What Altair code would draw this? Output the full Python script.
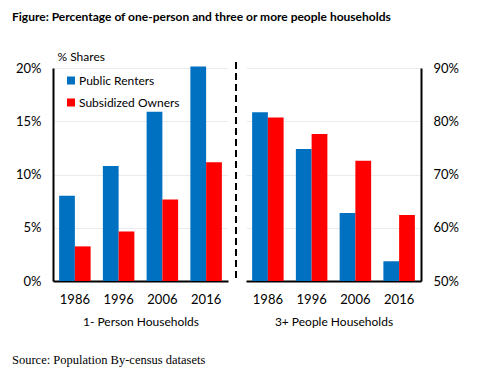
import altair as alt
import pandas as pd

years = ["1986", "1996", "2006", "2016"]
series = ["Public Renters", "Subsidized Owners"]
one_public = [8.0, 10.8, 15.9, 20.15]
one_subsid = [3.25, 4.65, 7.65, 11.15]
three_public = [81.7, 74.8, 62.75, 53.7]
three_subsid = [80.7, 77.6, 72.6, 62.4]
left_ticks = [0, 5, 10, 15, 20]
right_ticks = [50, 60, 70, 80, 90]
colors = ["#0070C0", "#FF0000"]
title_text = "Figure: Percentage of one-person and three or more people households"
source_text = "Source: Population By-census datasets"

FONT = "Lato"


def frame(pub, sub):
    rows = []
    for y, v in zip(years, pub):
        rows.append({"year": y, "series": series[0], "value": v})
    for y, v in zip(years, sub):
        rows.append({"year": y, "series": series[1], "value": v})
    return pd.DataFrame(rows)


df1 = frame(one_public, one_subsid)
df2 = frame(three_public, three_subsid)

xscale = alt.Scale(paddingInner=0.28, paddingOuter=0.14)
color_scale = alt.Scale(domain=series, range=colors)


def xaxis(title):
    return alt.Axis(title=title, labelAngle=0, ticks=False, domainColor="black",
                    domainWidth=2, labelPadding=12, titlePadding=10,
                    titleFontWeight="normal", titleFontSize=12)


left_bars = alt.Chart(df1).mark_bar().encode(
    x=alt.X("year:N", sort=years, scale=xscale, axis=xaxis("1- Person Households")),
    xOffset=alt.XOffset("series:N", sort=series),
    y=alt.Y("value:Q", scale=alt.Scale(domain=[0, 20], nice=False),
            axis=alt.Axis(values=left_ticks, labelExpr="datum.value + '%'",
                          ticks=False, domainColor="black", domainWidth=2,
                          labelPadding=12, title="% Shares", titleAngle=0,
                          titleAlign="left", titleBaseline="middle",
                          titleX=4, titleY=-12, titleFontWeight="normal",
                          titleFontSize=12)),
    color=alt.Color("series:N", sort=series, scale=color_scale,
                    legend=alt.Legend(title=None, orient="none", legendX=12,
                                      legendY=6.5, symbolType="square",
                                      symbolSize=64, rowPadding=10, padding=0,
                                      labelOffset=2,
                                      labelFontSize=12, labelFont=FONT)),
)

source = alt.Chart(pd.DataFrame({"t": [source_text]})).mark_text(
    align="left", baseline="middle", font="Liberation Serif", fontSize=12.5,
    color="black"
).encode(text="t:N", x=alt.value(-41), y=alt.value(292))

left = alt.layer(left_bars, source).properties(width=175, height=213)

right_bars = alt.Chart(df2).mark_bar(clip=True).encode(
    x=alt.X("year:N", sort=years, scale=xscale, axis=xaxis("3+ People Households")),
    xOffset=alt.XOffset("series:N", sort=series),
    y=alt.Y("value:Q", scale=alt.Scale(domain=[50, 90], nice=False, zero=False),
            axis=alt.Axis(orient="right", values=right_ticks,
                          labelExpr="datum.value + '%'", ticks=False,
                          domainColor="black", domainWidth=2, labelPadding=12,
                          title=None)),
    color=alt.Color("series:N", sort=series, scale=color_scale, legend=None),
)

divider = alt.Chart(pd.DataFrame({"a": [0]})).mark_rule(
    color="black", strokeWidth=2, strokeDash=[7, 4]
).encode(x=alt.value(-10), y=alt.value(-6), y2=alt.value(211))

right = alt.layer(right_bars, divider).properties(width=175, height=213)

chart = alt.hconcat(left, right, spacing=18, bounds="flush").properties(
    title=alt.TitleParams(title_text, anchor="start", font=FONT, fontSize=12,
                          fontWeight="bold", color="black", offset=26),
    padding={"left": 4, "top": 3, "right": 5, "bottom": 5},
).configure_view(stroke=None).configure_axis(
    labelFont=FONT, titleFont=FONT, labelFontSize=13, titleFontSize=13,
    labelColor="black", titleColor="black", gridColor="#EBEBEB"
).configure_axisX(grid=False)

chart.save("out.html", embed_options={"renderer": "svg", "actions": False})
